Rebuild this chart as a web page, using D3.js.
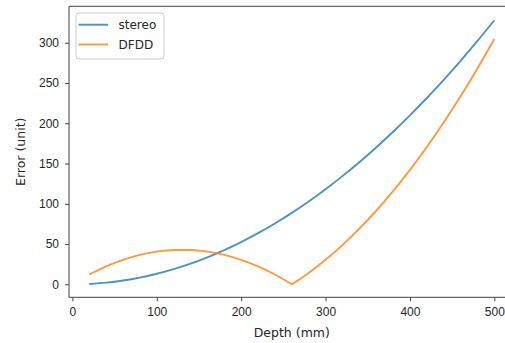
<!DOCTYPE html>
<html>
<head>
<meta charset="utf-8">
<script src="https://cdn.jsdelivr.net/npm/d3@7"></script>
<style>
body { margin: 0; background: #fff; overflow: hidden; }
svg { display: block; font-family: "DejaVu Sans", sans-serif; }
.tick text { font-size: 12px; fill: #262626; }
</style>
</head>
<body>
<div id="chart"></div>
<script>
// depth samples (mm)
var depths = [20, 40, 60, 80, 100, 120, 140, 160, 180, 200, 220, 240, 260,
    280, 300, 320, 340, 360, 380, 400, 420, 440, 460, 480, 500];
// error (unit)
var stereo = [0.5, 2.1, 4.7, 8.4, 13.1, 18.9, 25.7, 33.6, 42.5, 52.5, 63.5, 75.6, 88.7,
    102.9, 118.1, 134.4, 151.7, 170.0, 189.5, 209.9, 231.4, 254.0, 277.6, 302.3, 328.0];
var dfdd = [12.2, 22.3, 30.5, 36.6, 40.6, 42.7, 42.7, 40.6, 36.6, 30.5, 22.3, 12.2, 0,
    14.2, 30.5, 48.7, 69.1, 91.4, 115.8, 142.2, 170.6, 201.1, 233.5, 268.1, 304.6];
var seriesNames = ["stereo", "DFDD"];
var seriesColors = ["#1f77b4", "#ff7f0e"];
var xTicks = [0, 100, 200, 300, 400, 500];
var yTicks = [0, 50, 100, 150, 200, 250, 300];

var W = 505, H = 343;
var plotLeft = 69, plotRight = 514.6, plotTop = 6.3, plotBottom = 297.3;

var svg = d3.select("#chart").append("svg")
    .attr("width", W).attr("height", H);

var xScale = d3.scaleLinear().domain([-4, 524]).range([plotLeft, plotRight]);
var yScale = d3.scaleLinear().domain([-16.1, 345.3]).range([plotBottom, plotTop]);

var lineMaker = d3.line()
    .curve(d3.curveMonotoneX)
    .x(function(d) { return xScale(d[0]); })
    .y(function(d) { return yScale(d[1]); });

[stereo, dfdd].forEach(function(vals, i) {
    var pts = depths.map(function(z, j) { return [z, vals[j]]; });
    // the DFDD curve has a sharp kink at its zero, so draw each side on its own
    var k = d3.minIndex(vals);
    var pieces = (k > 0 && k < vals.length - 1) ? [pts.slice(0, k + 1), pts.slice(k)] : [pts];
    pieces.forEach(function(p) {
        svg.append("path")
            .datum(p)
            .attr("fill", "none")
            .attr("stroke", seriesColors[i])
            .attr("stroke-opacity", 0.8)
            .attr("stroke-width", 1.9)
            .attr("stroke-linejoin", "round")
            .attr("d", lineMaker);
    });
});

// axes
var xAxis = svg.append("g")
    .attr("transform", "translate(0," + plotBottom + ")")
    .call(d3.axisBottom(xScale).tickValues(xTicks).tickSize(4).tickPadding(6));
var yAxis = svg.append("g")
    .attr("transform", "translate(" + plotLeft + ",0)")
    .call(d3.axisLeft(yScale).tickValues(yTicks).tickSize(4).tickPadding(6));
[xAxis, yAxis].forEach(function(a) {
    a.select(".domain").remove();
    a.selectAll(".tick line").attr("stroke", "#444").attr("stroke-width", 1);
});

// spines (right one lies past the edge)
var spines = [
    [plotLeft, plotTop, plotLeft, plotBottom],
    [plotLeft, plotBottom, W, plotBottom],
    [plotLeft, plotTop, W, plotTop]
];
svg.selectAll(".spine").data(spines).enter().append("line")
    .attr("class", "spine")
    .attr("x1", function(d) { return d[0]; }).attr("y1", function(d) { return d[1]; })
    .attr("x2", function(d) { return d[2]; }).attr("y2", function(d) { return d[3]; })
    .attr("stroke", "#444").attr("stroke-width", 1);

svg.append("text")
    .attr("x", (plotLeft + plotRight) / 2).attr("y", 336.5)
    .attr("text-anchor", "middle")
    .style("font-size", "12.5px").attr("fill", "#262626")
    .text("Depth (mm)");
svg.append("text")
    .attr("transform", "translate(25," + ((plotTop + plotBottom) / 2) + ") rotate(-90)")
    .attr("text-anchor", "middle")
    .style("font-size", "12.5px").attr("fill", "#262626")
    .text("Error (unit)");

// legend
var legend = svg.append("g");
legend.append("rect")
    .attr("x", 76).attr("y", 13).attr("width", 88).attr("height", 46)
    .attr("rx", 3)
    .attr("fill", "#fff").attr("fill-opacity", 0.8)
    .attr("stroke", "#ccc").attr("stroke-width", 1);
seriesNames.forEach(function(name, i) {
    var y = 24.7 + i * 19.8;
    legend.append("line")
        .attr("x1", 78.5).attr("x2", 108).attr("y1", y).attr("y2", y)
        .attr("stroke", seriesColors[i]).attr("stroke-opacity", 0.8)
        .attr("stroke-width", 1.9);
    legend.append("text")
        .attr("x", 118.5).attr("y", y + 4.4)
        .style("font-size", "12px").attr("fill", "#262626")
        .text(name);
});
</script>
</body>
</html>
